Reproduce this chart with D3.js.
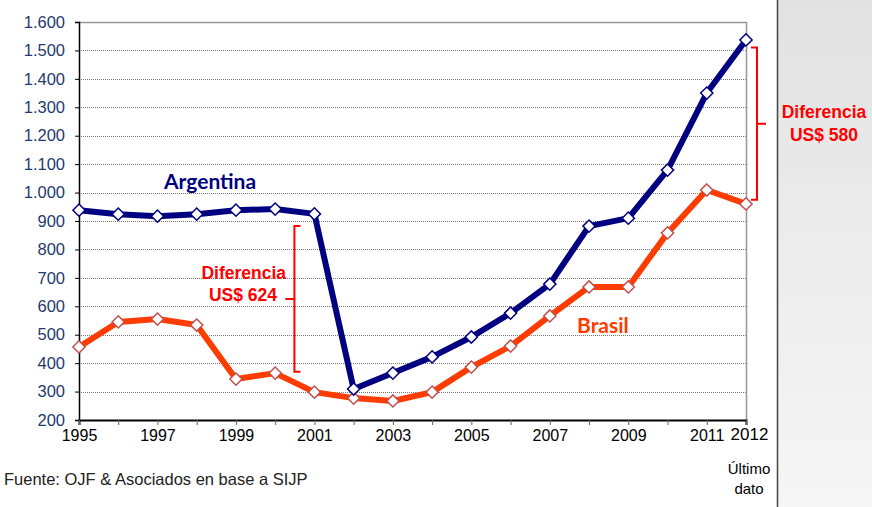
<!DOCTYPE html>
<html>
<head>
<meta charset="utf-8">
<script src="https://cdn.jsdelivr.net/npm/d3@7"></script>
<style>
  body { margin: 0; background: #fff; }
  svg { display: block; }
</style>
</head>
<body>
<svg width="872" height="507"></svg>
<script>
const years = [1995, 1996, 1997, 1998, 1999, 2000, 2001, 2002, 2003, 2004, 2005, 2006, 2007, 2008, 2009, 2010, 2011, 2012];
const argentina = [938, 924, 917, 924, 938, 942, 925, 309, 365, 422, 492, 576, 678, 882, 910, 1079, 1350, 1537];
const brasil = [457, 545, 555, 534, 344, 365, 298, 277, 267, 298, 386, 460, 566, 668, 668, 858, 1009, 960];
const yTicks = [200, 300, 400, 500, 600, 700, 800, 900, 1000, 1100, 1200, 1300, 1400, 1500, 1600];
const xLabels = [1995, 1997, 1999, 2001, 2003, 2005, 2007, 2009, 2011, 2012];

let svg = d3.select("svg");
const margin = { left: 79, right: 746, top: 22, bottom: 420 };
const arial = "Arial, 'Liberation Sans', sans-serif";

// grey side panel
let defs = svg.append("defs");
let grad = defs.append("linearGradient").attr("id", "panel")
    .attr("x1", 0).attr("y1", 0).attr("x2", 0).attr("y2", 1);
grad.append("stop").attr("offset", "0%").attr("stop-color", "#e2e2e2");
grad.append("stop").attr("offset", "100%").attr("stop-color", "#f6f6f6");
svg.append("rect").attr("x", 777).attr("y", 0).attr("width", 95).attr("height", 507)
    .attr("fill", "url(#panel)");
svg.append("line").attr("x1", 777.5).attr("x2", 777.5).attr("y1", 0).attr("y2", 507)
    .attr("stroke", "#444").attr("stroke-width", 1.5);

let x = d3.scaleLinear().domain([1995, 2012]).range([margin.left, margin.right]);
let y = d3.scaleLinear().domain([200, 1600]).range([margin.bottom, margin.top]);

// gridlines
svg.append("g").selectAll("line")
    .data(yTicks.filter(d => d > 200 && d < 1600))
    .enter().append("line")
    .attr("x1", margin.left).attr("x2", margin.right)
    .attr("y1", d => Math.round(y(d)) + 0.5).attr("y2", d => Math.round(y(d)) + 0.5)
    .attr("stroke", "#777").attr("stroke-width", 1).attr("stroke-dasharray", "1,1");

// plot border top/right
svg.append("path")
    .attr("d", `M${margin.left},${margin.top + 0.5}H${margin.right + 0.5}V${margin.bottom}`)
    .attr("fill", "none").attr("stroke", "#999").attr("stroke-width", 1.5);

// y axis
let yAxis = svg.append("g").attr("transform", `translate(${margin.left},0)`)
    .call(d3.axisLeft(y).tickValues(yTicks).tickSize(4).tickPadding(10)
        .tickFormat(d => d3.format(",")(d).replace(",", ".")));
yAxis.select(".domain").attr("stroke", "#000").attr("stroke-width", 1.5);
yAxis.selectAll("text").attr("font-family", arial).attr("font-size", 16.5)
    .attr("fill", "#1f3a6e");

// x axis
let xAxis = svg.append("g").attr("transform", `translate(0,${margin.bottom})`)
    .call(d3.axisBottom(x).tickValues(years).tickSize(5).tickPadding(5)
        .tickFormat(d => xLabels.includes(d) ? d : ""));
xAxis.select(".domain").attr("stroke", "#000").attr("stroke-width", 2);
xAxis.selectAll("line").attr("stroke", "#666");
xAxis.selectAll("text").attr("font-family", arial).attr("font-size", 16)
    .attr("fill", "#000");
xAxis.selectAll("text").filter(d => d === 2012).attr("font-size", 17).attr("dx", 3).attr("dy", "0.6em");

svg.append("text").attr("x", x(2012) + 3).attr("y", 474).attr("text-anchor", "middle")
    .attr("font-family", arial).attr("font-size", 15).text("Último");
svg.append("text").attr("x", x(2012) + 3).attr("y", 494).attr("text-anchor", "middle")
    .attr("font-family", arial).attr("font-size", 15).text("dato");

// lines
const line = d3.line().x((d, i) => x(years[i])).y(d => y(d));
const series = [
    { values: brasil, color: "#ff3c00", marker: "#c0504d" },
    { values: argentina, color: "#000080", marker: "#000080" }
];
series.forEach(s => {
    svg.append("path").attr("d", line(s.values))
        .attr("fill", "none").attr("stroke", s.color).attr("stroke-width", 6)
        .attr("stroke-linejoin", "round");
    svg.append("g").selectAll("path")
        .data(s.values)
        .enter().append("path")
        .attr("d", d3.symbol(d3.symbolDiamond2, 95))
        .attr("transform", (d, i) => `translate(${x(years[i])},${y(d)})`)
        .attr("fill", "#fff").attr("stroke", s.marker).attr("stroke-width", 1.5);
});

// series labels
svg.append("text").attr("x", 164).attr("y", 189)
    .attr("font-family", "Lato, 'Open Sans', sans-serif").attr("font-weight", "bold")
    .attr("font-size", 21).attr("fill", "#000080").text("Argentina");
svg.append("text").attr("x", 577).attr("y", 333)
    .attr("font-family", "Lato, 'Open Sans', sans-serif").attr("font-weight", "bold")
    .attr("font-size", 21).attr("fill", "#ff3c00").text("Brasil");

// brackets
function bracket(bx, top, bottom, dir) {
    let mid = (top + bottom) / 2;
    let hook = 6 * dir;
    return `M${bx + hook},${top}H${bx}V${mid}H${bx - hook * 1.5}M${bx},${mid}V${bottom}H${bx + hook}`;
}
svg.append("path").attr("d", bracket(x(2001) - 20, y(882), y(370), 1))
    .attr("fill", "none").attr("stroke", "#ff0000").attr("stroke-width", 2);
svg.append("path").attr("d", bracket(x(2012) + 11, y(1510), y(975), -1))
    .attr("fill", "none").attr("stroke", "#ff0000").attr("stroke-width", 2);

const diffText = [
    { x: 286, y: 279, anchor: "end", text: "Diferencia" },
    { x: 277, y: 301, anchor: "end", text: "US$ 624" },
    { x: 824, y: 118, anchor: "middle", text: "Diferencia" },
    { x: 824, y: 141, anchor: "middle", text: "US$ 580" }
];
svg.append("g").selectAll("text")
    .data(diffText)
    .enter().append("text")
    .attr("x", d => d.x).attr("y", d => d.y).attr("text-anchor", d => d.anchor)
    .attr("font-family", arial).attr("font-weight", "bold").attr("font-size", 17.5)
    .attr("fill", "#ff0000").text(d => d.text);

// source
svg.append("text").attr("x", 4).attr("y", 485)
    .attr("font-family", arial).attr("font-size", 16.5)
    .attr("fill", "#222").text("Fuente: OJF & Asociados en base a SIJP");
</script>
</body>
</html>
